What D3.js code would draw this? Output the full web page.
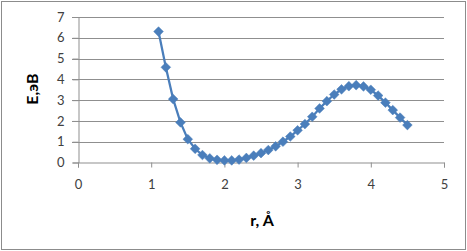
<!DOCTYPE html>
<html>
<head>
<meta charset="utf-8">
<script src="https://cdn.jsdelivr.net/npm/d3@7"></script>
<style>
  body { margin: 0; background: #fff; }
  .tick text { font-family: Lato, "Open Sans", sans-serif; font-size: 13px; fill: #404040; }
</style>
</head>
<body>
<div id="chart"></div>
<script>
// energy curve E(r)
var rValues = [1.1, 1.2, 1.3, 1.4, 1.5, 1.6, 1.7, 1.8, 1.9, 2.0, 2.1, 2.2, 2.3, 2.4, 2.5, 2.6, 2.7, 2.8,
    2.9, 3.0, 3.1, 3.2, 3.3, 3.4, 3.5, 3.6, 3.7, 3.8, 3.9, 4.0, 4.1, 4.2, 4.3, 4.4, 4.5];
var eValues = [6.3, 4.58, 3.05, 1.93, 1.12, 0.66, 0.36, 0.2, 0.13, 0.1, 0.1, 0.14, 0.22, 0.33, 0.45, 0.6, 0.78, 1.0,
    1.25, 1.55, 1.85, 2.2, 2.6, 2.95, 3.27, 3.52, 3.67, 3.72, 3.66, 3.5, 3.22, 2.88, 2.52, 2.16, 1.8];
var xTicks = [0, 1, 2, 3, 4, 5];
var yTicks = [0, 1, 2, 3, 4, 5, 6, 7];

var width = 467;
var height = 251;

var svg = d3.select("#chart")
    .append("svg")
    .attr("width", width)
    .attr("height", height);

// outer frame
svg.append("rect")
    .attr("x", 1.5)
    .attr("y", 1.5)
    .attr("width", width - 3)
    .attr("height", height - 3)
    .attr("fill", "#fff")
    .attr("stroke", "#8c8c8c");

var xScale = d3.scaleLinear().domain([0, 5]).range([78, 444]);
var yScale = d3.scaleLinear().domain([0, 7]).range([162.5, 17]);

// horizontal gridlines
svg.append("g")
    .selectAll("line")
    .data(yTicks.filter(function(d) { return d > 0; }))
    .enter()
    .append("line")
    .attr("x1", 72)
    .attr("x2", xScale(5))
    .attr("y1", function(d) { return Math.round(yScale(d)) + 0.5; })
    .attr("y2", function(d) { return Math.round(yScale(d)) + 0.5; })
    .attr("stroke", "#8f8f8f");

var yAxis = svg.append("g")
    .attr("transform", "translate(" + 78.5 + ",0)")
    .call(d3.axisLeft(yScale).tickValues(yTicks).tickFormat(d3.format("d")).tickSize(6).tickPadding(8));
yAxis.select(".domain").attr("stroke", "#8f8f8f");
yAxis.selectAll(".tick line").attr("stroke", "#8f8f8f");

var xAxis = svg.append("g")
    .attr("transform", "translate(0," + 162.5 + ")")
    .call(d3.axisBottom(xScale).tickValues(xTicks).tickFormat(d3.format("d")).tickSize(5).tickPadding(12));
xAxis.select(".domain").attr("stroke", "#8f8f8f");
xAxis.selectAll(".tick line").attr("stroke", "#8f8f8f");

var points = rValues.map(function(r, i) { return { r: r, e: eValues[i] }; });

var line = d3.line()
    .x(function(d) { return xScale(d.r); })
    .y(function(d) { return yScale(d.e); });

svg.append("path")
    .datum(points)
    .attr("d", line)
    .attr("fill", "none")
    .attr("stroke", "#4a7ebb")
    .attr("stroke-width", 2.25);

var diamond = d3.symbol().type(d3.symbolDiamond2).size(60);

svg.append("g")
    .selectAll("path")
    .data(points)
    .enter()
    .append("path")
    .attr("d", diamond)
    .attr("transform", function(d) {
        return "translate(" + xScale(d.r) + "," + yScale(d.e) + ")";
    })
    .attr("fill", "#4a7ebb")
    .attr("stroke", "#4a7ebb")
    .attr("stroke-width", 0.5);

// axis titles
svg.append("text")
    .attr("transform", "translate(38,89)rotate(-90)")
    .attr("text-anchor", "middle")
    .style("font-family", "Lato, 'Open Sans', sans-serif")
    .style("font-size", "16px")
    .style("font-weight", "bold")
    .text("E,эВ");

svg.append("text")
    .attr("x", 262)
    .attr("y", 226)
    .attr("text-anchor", "middle")
    .style("font-family", "Lato, 'Open Sans', sans-serif")
    .style("font-size", "16px")
    .style("font-weight", "bold")
    .text("r, Å");
</script>
</body>
</html>
